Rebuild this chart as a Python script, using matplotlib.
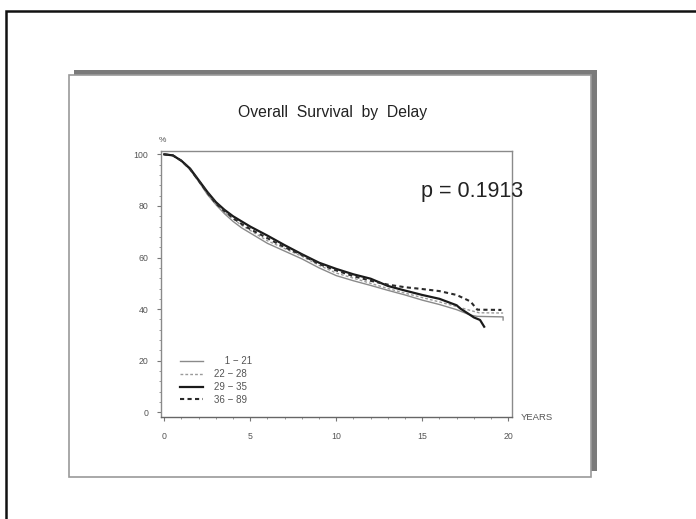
import matplotlib
matplotlib.use('Agg')
import matplotlib.pyplot as plt
from matplotlib.patches import Rectangle
from matplotlib.ticker import MultipleLocator

plt.rcParams['font.family'] = ['Liberation Sans', 'DejaVu Sans']

W, H = 696, 519

# survival curves (years, % surviving)
t_1_21 = [0, 0.5, 1.0, 1.5, 2.0, 2.5, 3.0, 3.5, 4.0, 4.5, 5, 6, 7, 8, 9, 10,
          11, 12, 13, 14, 15, 16, 17, 17.8, 18.2, 19.7, 19.7]
s_1_21 = [100, 99.6, 97.5, 94, 89.5, 84.5, 80.5, 77, 74, 71.5, 69.5, 65.5, 62.5,
          59.5, 56, 53, 51, 49.2, 47.3, 45.5, 43.5, 41.8, 39.8, 37.7, 37.2, 37.0, 35.8]

t_22_28 = [0, 0.5, 1.0, 1.5, 2.0, 2.5, 3.0, 3.5, 4.0, 4.5, 5, 6, 7, 8, 9, 10,
           11, 12, 13, 14, 15, 16, 17, 17.8, 18.3, 19.7]
s_22_28 = [100, 99.6, 97.5, 94.2, 89.8, 85, 80.8, 77.5, 75, 72.5, 70.5, 66.5, 63.5,
           60.5, 57, 54, 52, 50, 48, 46.2, 44.5, 42.8, 41, 39.5, 38.6, 38.5]

t_29_35 = [0, 0.5, 1.0, 1.5, 2.0, 2.5, 3.0, 3.5, 4.0, 4.5, 5, 6, 7, 8, 9, 10,
           11, 12, 13, 14, 15, 16, 17, 17.2, 17.8, 18.0, 18.36, 18.6]
s_29_35 = [100, 99.6, 97.5, 94.5, 90, 85.5, 81.5, 78.5, 76, 74, 72, 68.5, 64.8,
           61.3, 58, 55.6, 53.5, 51.8, 49, 47.2, 45.5, 44, 41.5, 40.3, 37.7, 36.8, 35.8, 33.2]

t_36_89 = [0, 0.5, 1.0, 1.5, 2.0, 2.5, 3.0, 3.5, 4.0, 4.5, 5, 6, 7, 8, 9, 10,
           11, 12, 13, 14, 15, 16, 17, 17.8, 18.2, 19.6]
s_36_89 = [100, 99.6, 97.5, 94.3, 89.8, 85.2, 81, 78, 75.3, 73, 71, 67.5, 64,
           61, 57.5, 55, 52.8, 51, 49.5, 48.5, 47.8, 47, 45.5, 43, 39.8, 39.7]

labels = ['\u2007\u20071 \u2212 21', '22 \u2212 28', '29 \u2212 35', '36 \u2212 89']
p_text = 'p = 0.1913'


def fx(x):
    return x / W


def fy(y):
    return 1 - y / H


fig = plt.figure(figsize=(W / 100, H / 100), dpi=100)

# outer frame (runs off the right and bottom edge)
fig.add_artist(Rectangle((fx(6), fy(530)), fx(700), fy(11) - fy(530),
                         transform=fig.transFigure, fill=False,
                         edgecolor='#111111', linewidth=1.8, zorder=-5))
# slide shadow and slide
fig.add_artist(Rectangle((fx(74), fy(471)), fx(597) - fx(74), fy(70) - fy(471),
                         transform=fig.transFigure, facecolor='#7a7a7a',
                         edgecolor='none', zorder=-4))
fig.add_artist(Rectangle((fx(69), fy(477)), fx(591) - fx(69), fy(75) - fy(477),
                         transform=fig.transFigure, facecolor='white',
                         edgecolor='#9a9a9a', linewidth=1.2, zorder=-3))

ax = fig.add_axes([fx(161), fy(417), fx(511.7) - fx(161), fy(151) - fy(417)])
ax.set_facecolor('none')

ax.plot(t_1_21, s_1_21, color='#8a8a8a', linewidth=1.0, label=labels[0])
ax.plot(t_22_28, s_22_28, color='#9a9a9a', linewidth=1.0, linestyle=(0, (2, 1.5)),
        label=labels[1])
ax.plot(t_29_35, s_29_35, color='#1a1a1a', linewidth=1.6, label=labels[2])
ax.plot(t_36_89, s_36_89, color='#2a2a2a', linewidth=1.5, linestyle=(0, (2, 1.6)),
        label=labels[3])

ax.set_xlim(-0.19, 20.2)
ax.set_ylim(-1.8, 101.3)
ax.set_xticks([0, 5, 10, 15, 20])
ax.set_yticks([0, 20, 40, 60, 80, 100])
ax.xaxis.set_minor_locator(MultipleLocator(1))
ax.yaxis.set_minor_locator(MultipleLocator(4))
ax.tick_params(axis='both', which='major', direction='out', length=3, width=0.8,
               color='#777777', labelsize=6.3, labelcolor='#555555')
ax.tick_params(axis='both', which='minor', direction='out', length=1.5, width=0.6,
               color='#888888')
ax.tick_params(axis='x', pad=8)
ax.tick_params(axis='y', pad=6)
for side in ['left', 'bottom', 'right', 'top']:
    ax.spines[side].set_color('#8a8a8a')
    ax.spines[side].set_linewidth(1.0)
ax.spines['bottom'].set_color('#666666')

leg = ax.legend(loc='lower left', bbox_to_anchor=(0.035, 0.02), frameon=False,
                fontsize=7, handlelength=2.4, handletextpad=1.1,
                labelspacing=0.3, borderpad=0.2)
for txt in leg.get_texts():
    txt.set_color('#555555')

fig.text(fx(332.5), fy(113), 'Overall  Survival  by  Delay', ha='center',
         va='center', fontsize=11.3, color='#222222')
fig.text(fx(162), fy(141), '%', ha='center', va='center', fontsize=6,
         color='#555555')
fig.text(fx(521), fy(417), 'YEARS', ha='left', va='center', fontsize=6.8,
         color='#555555')
fig.text(fx(421), fy(191), p_text, ha='left', va='center', fontsize=15.5,
         color='#222222')

fig.savefig('out.png', dpi=100)
